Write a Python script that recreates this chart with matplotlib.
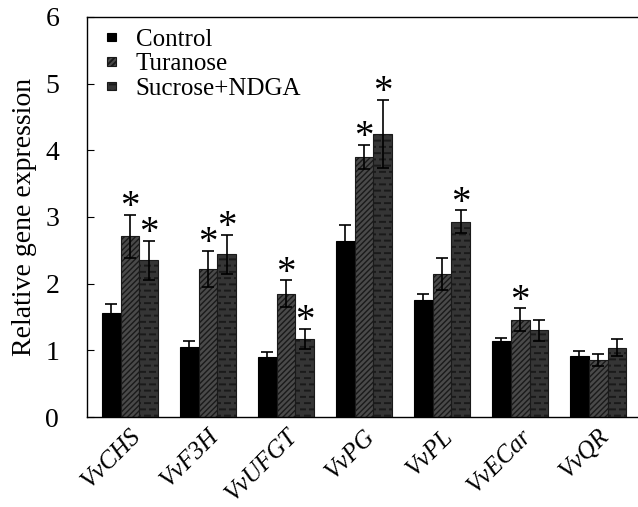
import numpy as np
import matplotlib
matplotlib.use("Agg")
import matplotlib.pyplot as plt
import matplotlib.hatch as mhatch

genes = ["VvCHS", "VvF3H", "VvUFGT", "VvPG", "VvPL", "VvECar", "VvQR"]
control = [1.56, 1.05, 0.90, 2.64, 1.76, 1.14, 0.92]
control_err = [0.13, 0.09, 0.07, 0.24, 0.09, 0.05, 0.07]
turanose = [2.71, 2.22, 1.85, 3.90, 2.14, 1.46, 0.86]
turanose_err = [0.32, 0.27, 0.20, 0.18, 0.24, 0.17, 0.09]
sucrose = [2.35, 2.44, 1.17, 4.25, 2.93, 1.30, 1.04]
sucrose_err = [0.29, 0.29, 0.15, 0.51, 0.17, 0.16, 0.13]
star_t = [1, 1, 1, 1, 0, 1, 0]
star_s = [1, 1, 1, 1, 1, 0, 0]


# short staggered dashes instead of solid horizontal hatch lines
class DashHatch(mhatch.HatchPatternBase):
    def __init__(self, hatch, density):
        self.num_lines = hatch.count("-") * 8
        self.num_dashes = 10
        self.num_vertices = self.num_lines * self.num_dashes * 2

    def set_vertices_and_codes(self, vertices, codes):
        p = 1.0 / self.num_dashes
        k = 0
        for r in range(self.num_lines):
            y = (r + 0.5) / self.num_lines
            off = 0.5 * p if r % 2 else 0.0
            for j in range(self.num_dashes):
                x0 = off + j * p
                vertices[k] = (x0, y)
                vertices[k + 1] = (x0 + 0.5 * p, y)
                codes[k] = mhatch.Path.MOVETO
                codes[k + 1] = mhatch.Path.LINETO
                k += 2


i_h = mhatch._hatch_types.index(mhatch.HorizontalHatch)
mhatch._hatch_types[i_h] = DashHatch

plt.rcParams["font.family"] = ["Liberation Serif", "DejaVu Serif"]

fig = plt.figure(figsize=(6.38, 5.07), dpi=100)
ax = fig.add_axes([0.1364, 0.1775, 0.8636, 0.789])

x = np.arange(len(genes))
w = 0.24
ekw = dict(elinewidth=1.2, capthick=1.2, ecolor="black")

ax.bar(x - w, control, w, yerr=control_err, capsize=4, color="black",
       edgecolor="black", linewidth=0.8, error_kw=ekw, label="Control")
plt.rcParams["hatch.color"] = "#9a9a9a"
plt.rcParams["hatch.linewidth"] = 1.0
ax.bar(x, turanose, w, yerr=turanose_err, capsize=4, color="#4a4a4a",
       edgecolor="#1a1a1a", linewidth=0.8, hatch="//////", error_kw=ekw,
       label="Turanose")
plt.rcParams["hatch.color"] = "#909090"
plt.rcParams["hatch.linewidth"] = 1.4
ax.bar(x + w, sucrose, w, yerr=sucrose_err, capsize=4, color="#353535",
       edgecolor="#1a1a1a", linewidth=0.8, hatch="--", error_kw=ekw,
       label="Sucrose+NDGA")

for i in range(len(genes)):
    if star_t[i]:
        ax.text(x[i], turanose[i] + turanose_err[i] - 0.17, "*",
                ha="center", va="bottom", fontsize=28)
    if star_s[i]:
        ax.text(x[i] + w, sucrose[i] + sucrose_err[i] - 0.17, "*",
                ha="center", va="bottom", fontsize=28)

ax.set_xlim(-0.55, 6.51)
ax.set_ylim(0, 6)
ax.set_yticks(range(7))
ax.tick_params(axis="y", direction="in", length=5, labelsize=20, pad=20)
ax.tick_params(axis="x", length=0, pad=6)
ax.set_xticks(x)
ax.set_xticklabels(genes, rotation=45, ha="right", rotation_mode="anchor",
                   fontstyle="italic", fontsize=18)
ax.set_ylabel("Relative gene expression", fontsize=20, labelpad=6)
ax.spines["right"].set_visible(False)
for s in ["left", "top", "bottom"]:
    ax.spines[s].set_linewidth(1.0)

ax.legend(loc="upper left", bbox_to_anchor=(0.0, 1.02), frameon=False,
          fontsize=18, handlelength=0.35, handleheight=0.16,
          handletextpad=0.8, labelspacing=0.1, borderpad=0.3)

fig.savefig("out.png", dpi=100)
